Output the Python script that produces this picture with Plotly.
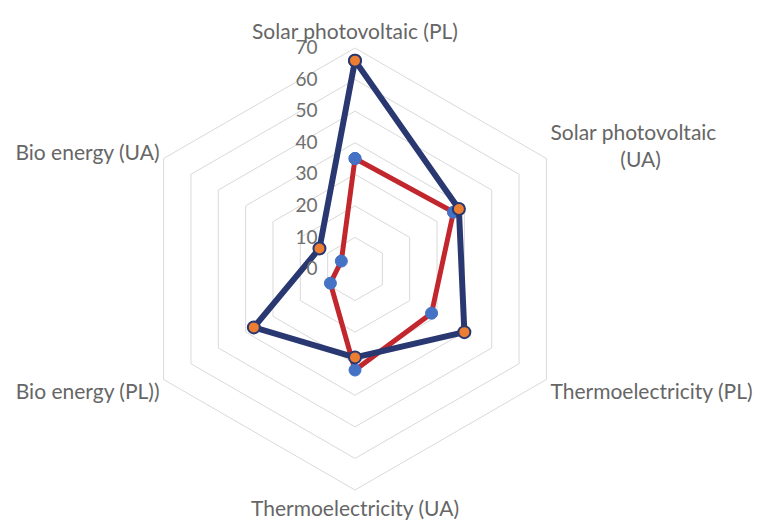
import plotly.graph_objects as go

# Radar axes, listed clockwise starting from the top
categories = [
    "Solar photovoltaic (PL)",
    "Solar photovoltaic<br>" + "&nbsp;" * 13 + "(UA)",
    "Thermoelectricity (PL)",
    "Thermoelectricity (UA)",
    "Bio energy (PL))",
    "Bio energy (UA)",
]

series_1 = [66, 38, 40, 28, 37, 13]   # dark blue line, orange markers
series_2 = [35, 36, 28, 32, 9, 5]     # red line, blue markers

radial_ticks = [0, 10, 20, 30, 40, 50, 60, 70]


def closed(values):
    return values + values[:1]


cats_closed = closed(categories)

fig = go.Figure()

fig.add_trace(go.Scatterpolar(
    r=closed(series_2),
    theta=cats_closed,
    mode="lines+markers",
    name="Series 2",
    line=dict(color="#c1272d", width=5),
    marker=dict(size=12, color="#4472c4", line=dict(color="#4472c4", width=1)),
    showlegend=False,
))

fig.add_trace(go.Scatterpolar(
    r=closed(series_1),
    theta=cats_closed,
    mode="lines+markers",
    name="Series 1",
    line=dict(color="#2a3871", width=6),
    marker=dict(size=12, color="#ed7d31", line=dict(color="#2a3871", width=2)),
    showlegend=False,
))

W, H = 765, 526
cx, cy, R = 355, 269, 221

fig.update_layout(
    width=W,
    height=H,
    margin=dict(l=0, r=0, t=0, b=0),
    paper_bgcolor="white",
    plot_bgcolor="white",
    font=dict(family="Lato, 'Open Sans', sans-serif", color="#666666"),
    polar=dict(
        domain=dict(
            x=[(cx - R) / W, (cx + R) / W],
            y=[(H - cy - R) / H, (H - cy + R) / H],
        ),
        bgcolor="white",
        gridshape="linear",
        radialaxis=dict(
            range=[0, 70],
            tickvals=radial_ticks,
            ticktext=[str(v) + "&nbsp;" * 7 for v in radial_ticks],
            angle=90,
            tickangle=90,
            side="counterclockwise",
            showline=False,
            ticks="",
            gridcolor="#d9d9d9",
            gridwidth=1,
            tickfont=dict(size=19, color="#6e6e6e"),
        ),
        angularaxis=dict(
            rotation=90,
            direction="clockwise",
            showgrid=False,
            showline=True,
            linecolor="#d9d9d9",
            linewidth=1,
            ticks="",
            tickfont=dict(size=21, color="#666666"),
        ),
    ),
)

fig.write_html("out.html")
